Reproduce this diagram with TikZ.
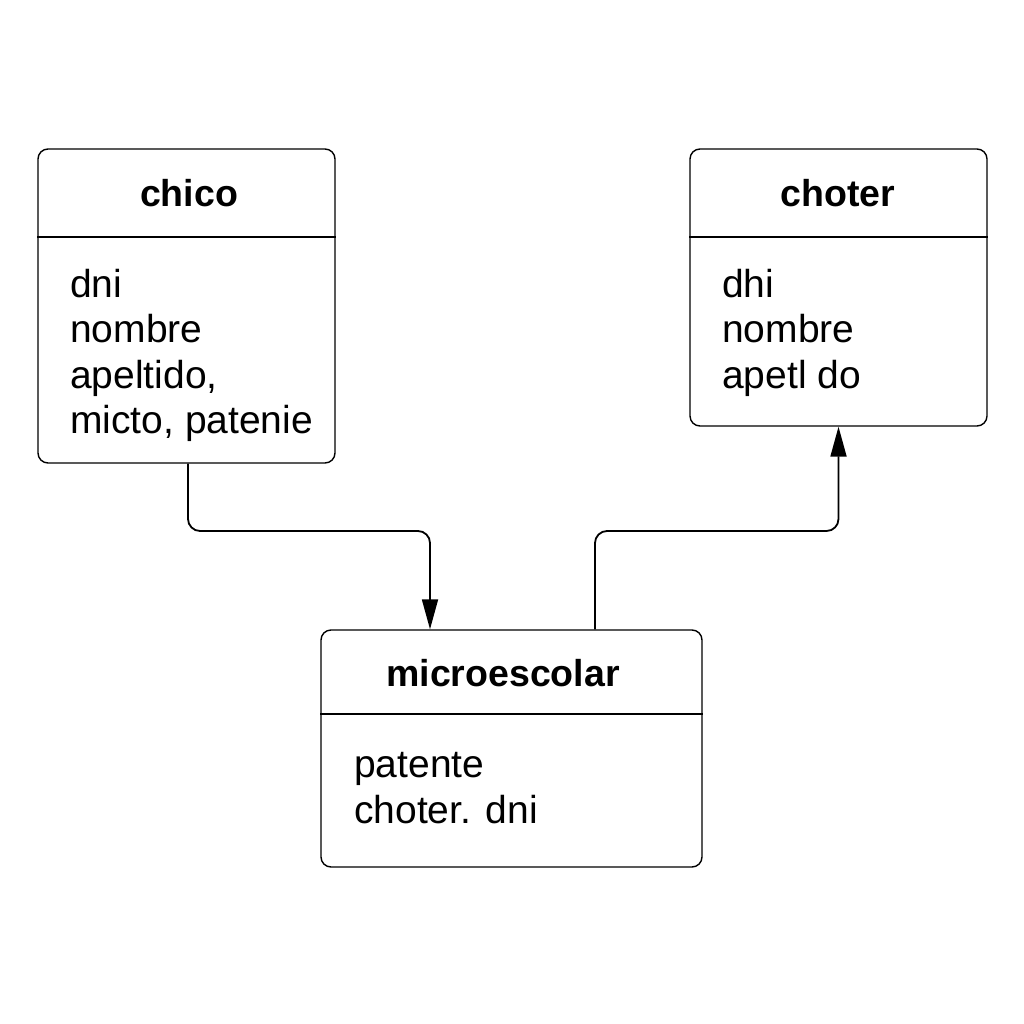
\documentclass[tikz,border=0pt]{standalone}
\usepackage{fontspec}
\setmainfont{Liberation Sans}
\usetikzlibrary{arrows.meta,calc}
\begin{document}
\begin{tikzpicture}[x=1pt,y=-1pt,
  entbox/.style={draw, line width=1.4pt, rounded corners=10pt, inner sep=0pt},
  ttl/.style={font=\fontsize{37.5}{45}\selectfont\bfseries, anchor=base, inner sep=0pt},
  attr/.style={font=\fontsize{39}{46}\selectfont, anchor=base west, inner sep=0pt},
  conn/.style={line width=1.8pt, rounded corners=12pt, -{Triangle[length=30pt,width=16pt]}}]
\useasboundingbox (0,0) rectangle (1024,1024);
\fill[white] (0,0) rectangle (1024,1024);
% boxes
\node[entbox, minimum width=297pt, minimum height=314pt] (chico) at (186.5,306) {};
\node[entbox, minimum width=297pt, minimum height=277pt] (choter) at (838.5,287.5) {};
\node[entbox, minimum width=381pt, minimum height=237pt] (micro) at (511.5,748.5) {};
% dividers
\draw[line width=1.4pt] (chico.west |- 0,237) -- (chico.east |- 0,237);
\draw[line width=1.4pt] (choter.west |- 0,237) -- (choter.east |- 0,237);
\draw[line width=1.4pt] (micro.west |- 0,714) -- (micro.east |- 0,714);
% titles
\node[ttl] (tchico) at (189,207) {chico};
\node[ttl] (tchoter) at (838,207) {choter};
\node[ttl] (tmicro) at (503,686) {microescolar};
% attributes
\node[attr] (a1) at (70,297) {dni};
\node[attr] (a2) at (70,342) {nombre};
\node[attr] (a3) at (70,388) {apeltido,};
\node[attr] (a4) at (70,433) {micto, patenie};
\node[attr] (b1) at (722,297) {dhi};
\node[attr] (b2) at (722,342) {nombre};
\node[attr] (b3) at (722,388) {apetl do};
\node[attr] (c1) at (354,777) {patente};
\node[attr] (c2) at (354,823) {choter. dni};
% connectors
\coordinate (inM) at ($(micro.north)+(-81.5,0)$);
\coordinate (outM) at ($(micro.north)+(83.5,0)$);
\draw[conn] (chico.south -| 188,0) -- (188,531) -| (inM);
\draw[conn] (outM) -- (595,531) -| (choter.south);
\end{tikzpicture}
\end{document}
